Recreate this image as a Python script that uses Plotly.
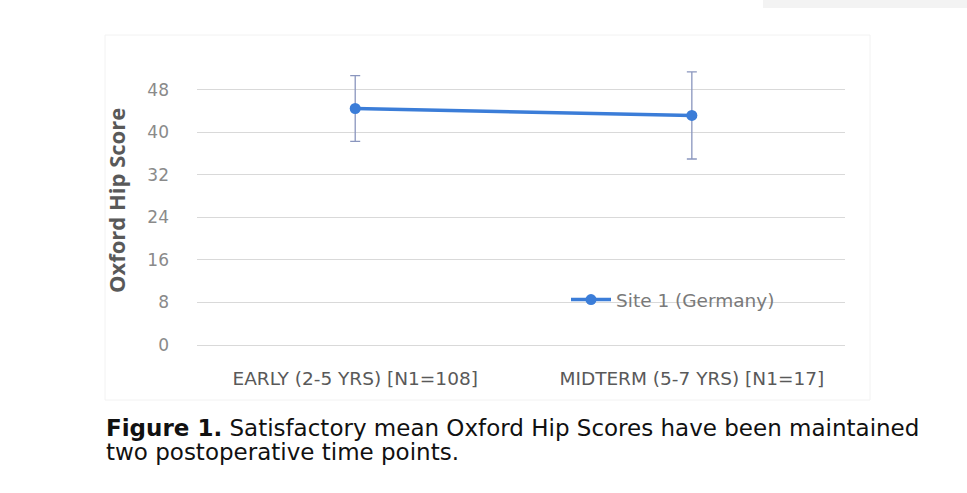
import plotly.graph_objects as go

categories = ["EARLY (2-5 YRS) [N1=108]", "MIDTERM (5-7 YRS) [N1=17]"]
mean_ohs = [44.5, 43.2]
err_ohs = [6.2, 8.2]
y_ticks = [0, 8, 16, 24, 32, 40, 48]
series_name = "Site 1 (Germany)"
y_title = "Oxford Hip Score"
caption_line1 = "<b>Figure 1.</b> Satisfactory mean Oxford Hip Scores have been maintained"
caption_line2 = "two postoperative time points."

W, H = 967, 493
L, R, T, B = 197, 122, 58, 148
pw, ph = W - L - R, H - T - B

def px(x):
    return (x - L) / pw

def py(y):
    return (H - B - y) / ph

fig = go.Figure()
fig.add_trace(go.Scatter(
    x=categories, y=mean_ohs, name=series_name, mode="lines+markers",
    line=dict(color="#3B7DD8", width=3.5),
    marker=dict(size=11, color="#3B7DD8"),
    error_y=dict(type="data", array=err_ohs, visible=True, color="#8A96BE",
                 thickness=1.3, width=5),
    cliponaxis=False,
))

fig.update_layout(
    width=W, height=H,
    margin=dict(l=L, r=R, t=T, b=B, autoexpand=False),
    paper_bgcolor="white", plot_bgcolor="white",
    font=dict(family="DejaVu Sans", color="#7f7f7f"),
    showlegend=True,
    legend=dict(x=px(566), y=py(300), xanchor="left", yanchor="middle",
                bgcolor="rgba(0,0,0,0)", font=dict(size=18.5, color="#7a7a7a"),
                itemwidth=40),
    xaxis=dict(type="category", range=[-0.47, 1.455], showgrid=False,
               showline=False, zeroline=False, ticks="", automargin=False,
               tickfont=dict(size=18.5, color="#595959"), ticklabelstandoff=20),
    yaxis=dict(range=[0, 54], tickvals=y_ticks, showgrid=True,
               gridcolor="#d9d9d9", gridwidth=1, zeroline=True,
               zerolinecolor="#d9d9d9", zerolinewidth=1, showline=False,
               ticks="", automargin=False,
               tickfont=dict(size=17, color="#8a8a8a"), ticklabelstandoff=27),
    shapes=[
        dict(type="rect", xref="paper", yref="paper",
             x0=px(105), x1=px(870), y0=py(400), y1=py(35),
             line=dict(color="#f2f2f2", width=1), fillcolor="rgba(0,0,0,0)",
             layer="below"),
        dict(type="rect", xref="paper", yref="paper",
             x0=px(763), x1=px(967), y0=py(8), y1=py(-2),
             line=dict(width=0), fillcolor="#f3f3f3"),
    ],
    annotations=[
        dict(text="<b>" + y_title + "</b>", textangle=-90, xref="paper", yref="paper",
             x=px(116), y=py(201), showarrow=False,
             font=dict(size=22, color="#595959", family="Open Sans"),
             xanchor="center", yanchor="middle"),
        dict(text=caption_line1, xref="paper", yref="paper", x=px(104), y=py(428),
             xanchor="left", yanchor="middle", align="left", showarrow=False,
             font=dict(size=23, color="#111111", family="DejaVu Sans")),
        dict(text=caption_line2, xref="paper", yref="paper", x=px(104), y=py(452),
             xanchor="left", yanchor="middle", align="left", showarrow=False,
             font=dict(size=23, color="#111111", family="DejaVu Sans")),
    ],
)

fig.write_html("out.html", config={"displayModeBar": False},
               post_script="document.body.style.margin='0';")
